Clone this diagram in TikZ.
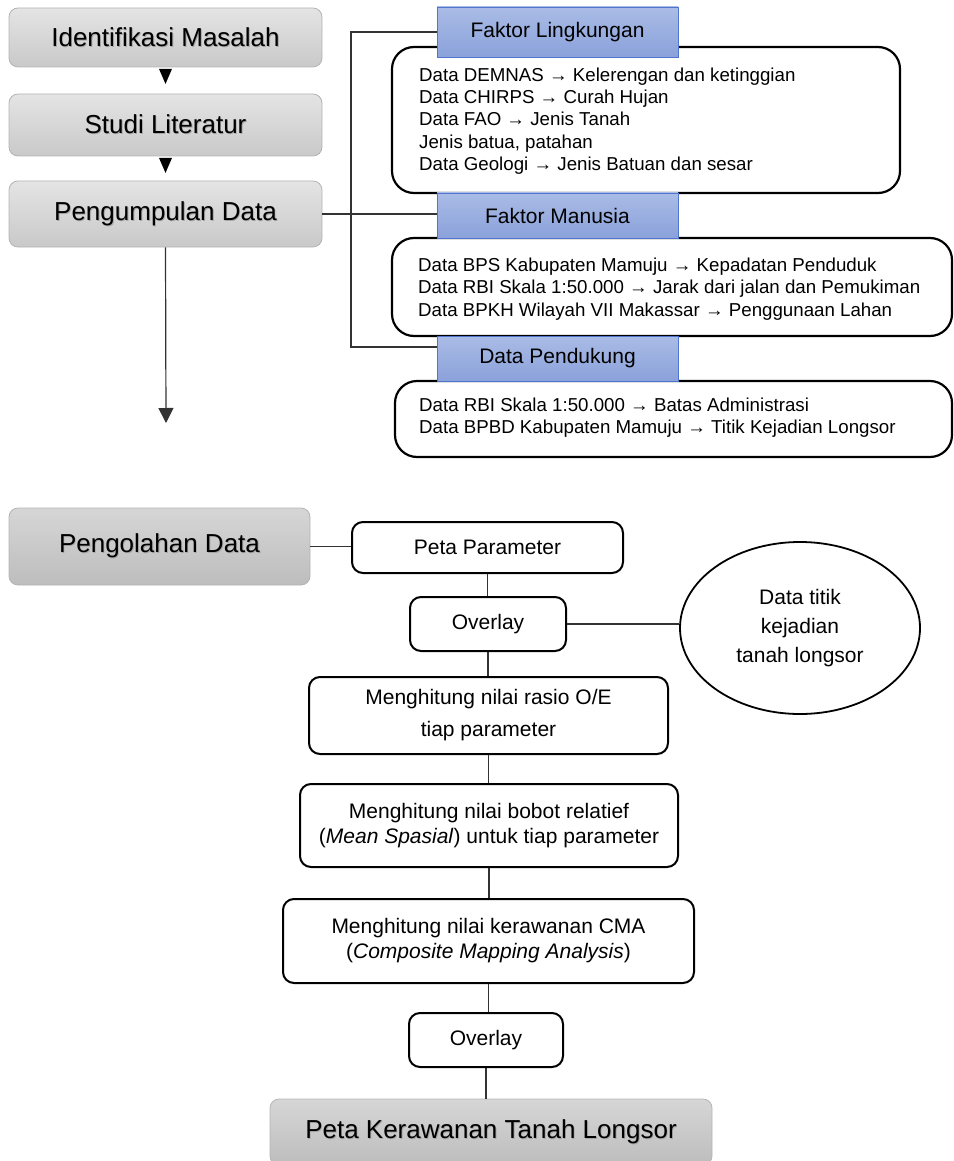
\documentclass[tikz,border=0pt]{standalone}
\usepackage{fontspec}
\setmainfont{Liberation Sans}
\usetikzlibrary{shapes.geometric,arrows.meta,calc}
\definecolor{gTop}{HTML}{E4E4E4}
\definecolor{gBot}{HTML}{C9C9C9}
\definecolor{gTopD}{HTML}{D6D6D6}
\definecolor{gBotD}{HTML}{BDBDBD}
\definecolor{gLine}{HTML}{B4B4B4}
\definecolor{bTop}{HTML}{AABCE6}
\definecolor{bBot}{HTML}{8AA1DA}
\definecolor{bLine}{HTML}{4F75CC}
\definecolor{cLine}{HTML}{333333}
\newcommand{\shtxt}[1]{\rlap{\kern0.9pt\raisebox{-0.9pt}{\color{black!35}#1}}#1}
\begin{document}
\begin{tikzpicture}[x=1pt,y=-1pt,
  graybox/.style={draw=gLine, line width=0.8pt, rounded corners=9pt, top color=gTop, bottom color=gBot, inner sep=0pt, font=\fontsize{26}{30}\selectfont},
  graydark/.style={graybox, top color=gTopD, bottom color=gBotD},
  bluebox/.style={draw=bLine, line width=0.9pt, top color=bTop, bottom color=bBot, inner sep=0pt, minimum width=241pt, font=\fontsize{21}{24}\selectfont},
  databox/.style={draw=black, line width=2.2pt, rounded corners=22pt, fill=white, inner sep=0pt},
  datatext/.style={anchor=west, align=left, inner sep=0pt, font=\fontsize{18.7}{22.3}\selectfont},
  procbox/.style={draw=black, line width=2pt, rounded corners=11pt, fill=white, inner sep=0pt, align=center, font=\fontsize{21}{25}\selectfont},
  conn/.style={draw=cLine, line width=1.2pt},
  tri/.style={fill=black}
]
\clip (0,0) rectangle (953,1161);

% top-left process column
\node[graybox, minimum width=313pt, minimum height=59pt] (idm) at (165.5,37.5) {\shtxt{Identifikasi Masalah}};
\node[graybox, minimum width=313pt, minimum height=62pt] (stl) at (165.5,125) {\shtxt{Studi Literatur}};
\node[graybox, minimum width=313pt, minimum height=66pt] (pgd) at (165.5,214) {\shtxt{Pengumpulan Data}};

\fill[tri] ($(idm.south)+(-6.5,1.5)$) -- ++(13,0) -- ++(-6.5,15) -- cycle;
\fill[tri] ($(stl.south)+(-6.5,1.5)$) -- ++(13,0) -- ++(-6.5,15) -- cycle;

\coordinate (arrEnd) at (166,423);
\draw[conn, -{Triangle[width=15pt,length=15pt]}] (pgd.south) -- (arrEnd);

% data boxes
\node[databox, minimum width=508pt, minimum height=146pt] (d1) at (646,120) {};
\node[databox, minimum width=560pt, minimum height=98pt] (d2) at (672,287) {};
\node[databox, minimum width=557pt, minimum height=76pt] (d3) at (673.5,419) {};

\node[datatext] (t1) at (419,121) {Data DEMNAS → Kelerengan dan ketinggian\\Data CHIRPS → Curah Hujan\\Data FAO → Jenis Tanah\\Jenis batua, patahan\\Data Geologi → Jenis Batuan dan sesar};
\node[datatext] (t2) at (418,289) {Data BPS Kabupaten Mamuju → Kepadatan Penduduk\\Data RBI Skala 1:50.000 → Jarak dari jalan dan Pemukiman\\Data BPKH Wilayah VII Makassar → Penggunaan Lahan};
\node[datatext] (t3) at (419,418) {Data RBI Skala 1:50.000 → Batas Administrasi\\Data BPBD Kabupaten Mamuju → Titik Kejadian Longsor};

% blue headers
\node[bluebox, minimum height=50pt] (fl) at (557.5,32) {Faktor Lingkungan};
\node[bluebox, minimum height=45pt] (fm) at (557.5,215.5) {Faktor Manusia};
\node[bluebox, minimum height=45pt] (dp) at (557.5,358.5) {Data Pendukung};

% bracket connectors
\coordinate (bTop) at (351,32);
\coordinate (bBot) at (351,347);
\draw[conn] (fl.west) -- (bTop) -- (bBot) -- (bBot -| dp.west);
\draw[conn] (pgd.east) -- (pgd.east -| fm.west);

% lower part
\node[graydark, minimum width=301pt, minimum height=77pt] (pol) at (159.5,546.5) {\shtxt{Pengolahan Data}};
\node[procbox, minimum width=271pt, minimum height=51pt] (pp) at (487.5,547.5) {Peta Parameter};
\node[procbox, minimum width=156pt, minimum height=54pt] (ov1) at (488,624) {Overlay};
\node[ellipse, draw=black, line width=1.8pt, fill=white, minimum width=240pt, minimum height=172pt, inner sep=0pt, align=center, font=\fontsize{21}{29}\selectfont] (circ) at (800,628) {Data titik\\kejadian\\tanah longsor};
\node[procbox, minimum width=359pt, minimum height=77pt, font=\fontsize{21}{32}\selectfont] (r1) at (488.5,715.5) {Menghitung nilai rasio O/E\\tiap parameter};
\node[procbox, minimum width=378pt, minimum height=83pt] (r2) at (489,825.5) {Menghitung nilai bobot relatief\\(\textit{Mean Spasial}) untuk tiap parameter};
\node[procbox, minimum width=411pt, minimum height=84pt] (r3) at (488.5,941) {Menghitung nilai kerawanan CMA\\(\textit{Composite Mapping Analysis})};
\node[procbox, minimum width=154pt, minimum height=54pt] (ov2) at (486,1040) {Overlay};
\node[graydark, minimum width=442pt, minimum height=66pt] (pkt) at (491,1132) {\shtxt{Peta Kerawanan Tanah Longsor}};

\draw[conn] (pol.east) -- (pol.east -| pp.west);
\draw[conn] (pp.south) -- (pp.south |- ov1.north);
\draw[conn] (ov1.east) -- (ov1.east -| circ.west);
\draw[conn] (ov1.south) -- (ov1.south |- r1.north);
\draw[conn] (r1.south) -- (r1.south |- r2.north);
\draw[conn] (r2.south) -- (r2.south |- r3.north);
\draw[conn] (r3.south) -- (r3.south |- ov2.north);
\draw[conn] (ov2.south) -- (ov2.south |- pkt.north);
\end{tikzpicture}
\end{document}
